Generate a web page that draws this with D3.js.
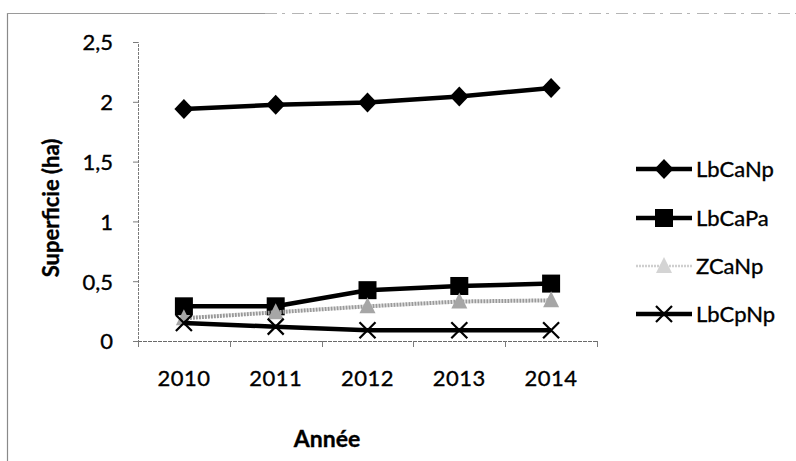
<!DOCTYPE html>
<html>
<head>
<meta charset="utf-8">
<script src="https://cdn.jsdelivr.net/npm/d3@7/dist/d3.min.js"></script>
<style>
  html, body { margin: 0; padding: 0; background: #fff; }
  svg { display: block; }
  text { font-family: Lato, "Open Sans", sans-serif; fill: #000; stroke: #000; stroke-width: 0.35px; }
</style>
</head>
<body>
<svg id="chart" width="796" height="461"></svg>
<script>
// Surface (ha) per production system, 2010-2014
const years = ["2010", "2011", "2012", "2013", "2014"];
const lbCaNp = [1.94, 1.975, 1.995, 2.045, 2.115];
const lbCaPa = [0.29, 0.29, 0.425, 0.46, 0.48];
const zCaNp  = [0.19, 0.24, 0.29, 0.33, 0.34];
const lbCpNp = [0.15, 0.12, 0.09, 0.09, 0.09];
const yTicks = [0, 0.5, 1, 1.5, 2, 2.5];
const seriesNames = ["LbCaNp", "LbCaPa", "ZCaNp", "LbCpNp"];

const series = [
  { name: seriesNames[0], values: lbCaNp, line: "#000", width: 4.5, marker: "diamond", fill: "#000" },
  { name: seriesNames[1], values: lbCaPa, line: "#000", width: 4.5, marker: "square",  fill: "#000" },
  { name: seriesNames[2], values: zCaNp,  line: "#9a9a9a", width: 4, marker: "triangle", fill: "#a6a6a6", dash: "2,1" },
  { name: seriesNames[3], values: lbCpNp, line: "#000", width: 4.5, marker: "cross",   fill: "none" }
];

const svg = d3.select("#chart");
const fr = d3.formatLocale({ decimal: ",", thousands: " ", grouping: [3], currency: ["", " €"] });
const fmt = fr.format(".1~f");

// chart area frame (left and top edges)
svg.append("line").attr("x1", 7.5).attr("x2", 7.5).attr("y1", 13).attr("y2", 461)
  .attr("stroke", "#8a8a8a").attr("stroke-width", 1.2);
svg.append("line").attr("x1", 7).attr("x2", 265).attr("y1", 13.5).attr("y2", 13.5)
  .attr("stroke", "#9a9a9a").attr("stroke-width", 1);
svg.append("line").attr("x1", 265).attr("x2", 796).attr("y1", 13.5).attr("y2", 13.5)
  .attr("stroke", "#b5b5b5").attr("stroke-width", 1).attr("stroke-dasharray", "12,5,3,7");

const x = d3.scaleBand().domain(years).range([138, 597]);
const y = d3.scaleLinear().domain([0, 2.5]).range([341, 42]);
const cx = d => x(d) + x.bandwidth() / 2;

// y axis
const yAxis = svg.append("g").attr("transform", "translate(138,0)")
  .call(d3.axisLeft(y).tickValues(yTicks).tickFormat(fmt).tickSize(5).tickPadding(20));
yAxis.select(".domain").attr("stroke", "#7a7a7a").attr("stroke-width", 1).attr("stroke-dasharray", "3,1");
yAxis.selectAll(".tick line").attr("stroke", "#7a7a7a");
yAxis.selectAll(".tick text").attr("font-size", 22).attr("dy", "0.36em")
  .attr("font-family", "Lato, sans-serif");

// x axis: category labels
const xAxis = svg.append("g").attr("transform", "translate(0,341)")
  .call(d3.axisBottom(x).tickSize(0).tickPadding(29));
xAxis.select(".domain").remove();
xAxis.selectAll(".tick text").attr("font-size", 22)
  .attr("font-family", "Lato, sans-serif").attr("letter-spacing", 0.5);
svg.append("line").attr("x1", 138).attr("x2", 597).attr("y1", 341.5).attr("y2", 341.5)
  .attr("stroke", "#6a6a6a").attr("stroke-width", 1.2).attr("stroke-dasharray", "4,1");
// tick marks at category boundaries
const bounds = years.map(d => x(d)).concat([x.range()[1]]);
svg.selectAll(".xtick").data(bounds).enter().append("line").attr("class", "xtick")
  .attr("x1", d => Math.round(d) + 0.5).attr("x2", d => Math.round(d) + 0.5)
  .attr("y1", 341).attr("y2", 347).attr("stroke", "#7a7a7a");

// axis titles
svg.append("text").attr("transform", "translate(59,208) rotate(-90)")
  .attr("text-anchor", "middle").attr("font-size", 22).attr("font-weight", "bold")
  .text("Superficie (ha)");
svg.append("text").attr("x", 327).attr("y", 447)
  .attr("text-anchor", "middle").attr("font-size", 23).attr("font-weight", "bold")
  .text("Année");

function drawMarker(g, type, px, py, fill) {
  if (type === "diamond") {
    g.append("path").attr("d", `M${px},${py - 10}L${px + 9.5},${py}L${px},${py + 10}L${px - 9.5},${py}Z`)
      .attr("fill", fill);
  } else if (type === "square") {
    g.append("rect").attr("x", px - 9).attr("y", py - 9).attr("width", 18).attr("height", 18)
      .attr("fill", fill);
  } else if (type === "triangle") {
    g.append("path").attr("d", `M${px},${py - 9}L${px + 8},${py + 7}L${px - 8},${py + 7}Z`)
      .attr("fill", fill);
  } else if (type === "cross") {
    g.append("path").attr("d", `M${px - 8},${py - 8}L${px + 8},${py + 8}M${px - 8},${py + 8}L${px + 8},${py - 8}`)
      .attr("stroke", "#000").attr("stroke-width", 2.2).attr("fill", "none");
  }
}

const line = d3.line().x((v, i) => cx(years[i])).y(v => y(v));
const plot = svg.append("g");
series.forEach(s => {
  const g = plot.append("g");
  g.append("path").datum(s.values).attr("d", line)
    .attr("fill", "none").attr("stroke", s.line).attr("stroke-width", s.width)
    .attr("stroke-linejoin", "round").attr("stroke-dasharray", s.dash || null);
  s.values.forEach((v, i) => drawMarker(g, s.marker, cx(years[i]), y(v), s.fill));
});

// legend
const legendY = [169, 218, 266, 314];
series.forEach((s, i) => {
  const g = svg.append("g");
  const ly = legendY[i];
  const lineColor = s.name === "ZCaNp" ? "#cfcfcf" : s.line;
  g.append("line").attr("x1", 636).attr("x2", 692).attr("y1", ly).attr("y2", ly)
    .attr("stroke", lineColor).attr("stroke-width", s.name === "ZCaNp" ? 2.5 : 4.5)
    .attr("stroke-dasharray", s.dash || null);
  drawMarker(g, s.marker, 664, ly, s.name === "ZCaNp" ? "#d4d4d4" : s.fill);
  g.append("text").attr("x", 696).attr("y", ly).attr("dy", "0.36em")
    .attr("font-size", 22).text(s.name);
});
</script>
</body>
</html>
